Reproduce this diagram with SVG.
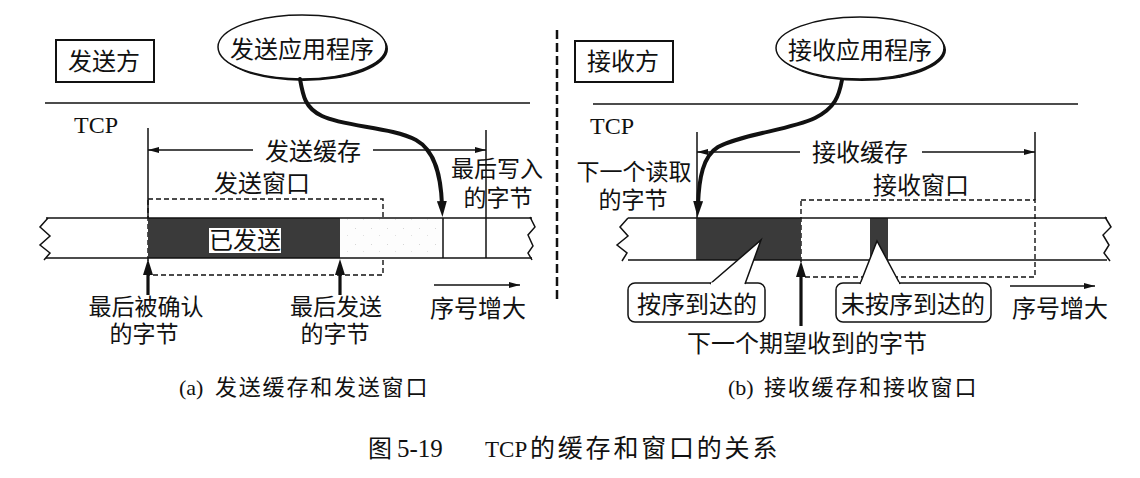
<svg xmlns="http://www.w3.org/2000/svg" width="1140" height="478" viewBox="0 0 1140 478">
<style>
.cjk{font-family:"Noto Sans CJK SC","Noto Sans CJK TC",sans-serif;font-size:24px;fill:#111;text-anchor:middle}
.sm{font-size:23px}
.lat{font-family:"Liberation Serif",serif;fill:#111}
.cap{font-family:"Noto Sans CJK SC",sans-serif;fill:#111}
.ln{stroke:#111;stroke-width:1.5;fill:none}
.dash{stroke:#111;stroke-width:1.4;fill:none;stroke-dasharray:5 3}
.thick{stroke:#111;stroke-width:3.2;fill:none}
.curve{stroke:#111;stroke-width:4;fill:none;stroke-linecap:round}
.box{fill:#fff;stroke:#111;stroke-width:2}
.dark{fill:#3a3a3a}
</style>
<defs>
<marker id="ah" viewBox="0 0 11 6" refX="11" refY="3" markerWidth="11" markerHeight="6" markerUnits="userSpaceOnUse" orient="auto"><path d="M0,0 L11,3 L0,6 z" fill="#111"/></marker>
<marker id="ahb" viewBox="0 0 16 10" refX="4" refY="5" markerWidth="16" markerHeight="10" markerUnits="userSpaceOnUse" orient="auto"><path d="M0,0 L16,5 L0,10 z" fill="#111"/></marker>
<pattern id="speck" width="16" height="16" patternUnits="userSpaceOnUse"><rect width="16" height="16" fill="#fdfdfd"/><rect x="3" y="4" width="1" height="1" fill="#d6d6d6"/><rect x="11" y="11" width="1" height="1" fill="#e0e0e0"/></pattern>
</defs>

<!-- ===== Left panel: sender ===== -->
<g id="sender-label">
<rect class="box" x="56" y="40" width="98" height="42"/>
<text class="cjk" x="104" y="70">发送方</text>
</g>
<g id="send-app">
<ellipse cx="304" cy="49" rx="84" ry="32" fill="#111"/>
<ellipse cx="302" cy="47" rx="84" ry="32" fill="#fff" stroke="#111" stroke-width="1.5"/>
<text class="cjk" x="302" y="58">发送应用程序</text>
</g>
<line class="ln" x1="45" y1="103" x2="530" y2="103"/>
<text class="lat" x="74" y="133" font-size="24">TCP</text>

<g id="send-buffer">
<line class="ln" x1="148" y1="128" x2="148" y2="218"/>
<line class="ln" x1="486" y1="130" x2="486" y2="258"/>
<text class="cjk" x="313" y="160">发送缓存</text>
</g>
<g id="send-window">
<rect class="dash" x="148" y="199" width="235" height="76"/>
<text class="cjk" x="262" y="192">发送窗口</text>
</g>
<g id="send-strip">
<rect class="dark" x="148" y="218" width="192" height="40"/>
<rect x="340" y="218" width="103" height="40" fill="url(#speck)"/>
<rect x="209" y="228" width="72" height="25" fill="#fff"/>
<text class="cjk" x="245" y="249">已发送</text>
<line class="ln" x1="46" y1="218" x2="532" y2="218"/>
<line class="ln" x1="46" y1="258" x2="532" y2="258"/>
<path class="ln" d="M48,218 L40,227 L50,236 L40,245 L50,253 L44,260"/>
<path class="ln" d="M530,217 L535,227 L528,235 L533,246 L528,253 L532,260"/>
<line class="ln" x1="443" y1="218" x2="443" y2="258"/>
</g>
<g id="send-labels">
<text class="cjk sm" x="497" y="177">最后写入<tspan x="498" dy="29">的字节</tspan></text>
<text class="cjk sm" x="146" y="315">最后被确认<tspan x="144" dy="27">的字节</tspan></text>
<text class="cjk sm" x="336" y="315">最后发送<tspan x="335" dy="27">的字节</tspan></text>
<text class="cjk" x="478" y="317">序号增大</text>
</g>

<!-- ===== Separator ===== -->
<line x1="557" y1="30" x2="557" y2="300" stroke="#111" stroke-width="2.5" stroke-dasharray="9 4"/>

<!-- ===== Right panel: receiver ===== -->
<g id="receiver-label">
<rect class="box" x="575" y="41" width="98" height="41"/>
<text class="cjk" x="623" y="70">接收方</text>
</g>
<g id="recv-app">
<ellipse cx="862" cy="50" rx="84" ry="31" fill="#111"/>
<ellipse cx="860" cy="48" rx="84" ry="31" fill="#fff" stroke="#111" stroke-width="1.5"/>
<text class="cjk" x="860" y="59">接收应用程序</text>
</g>
<line class="ln" x1="593" y1="104" x2="1078" y2="104"/>
<text class="lat" x="590" y="134" font-size="24">TCP</text>

<g id="recv-buffer">
<line class="ln" x1="697" y1="132" x2="697" y2="260"/>
<line class="ln" x1="1035" y1="132" x2="1035" y2="200"/>
<text class="cjk" x="860" y="161">接收缓存</text>
</g>
<g id="recv-window">
<rect class="dash" x="801" y="200" width="234" height="77"/>
<text class="cjk" x="921" y="194">接收窗口</text>
</g>
<g id="recv-strip">
<rect class="dark" x="697" y="218" width="104" height="42"/>
<rect class="dark" x="870" y="218" width="18" height="42"/>
<line class="ln" x1="628" y1="218" x2="1107" y2="218"/>
<line class="ln" x1="628" y1="260" x2="1107" y2="260"/>
<path class="ln" d="M628,218 L620,227 L628,236 L617,245 L627,253 L622,261"/>
<path class="ln" d="M1105,217 L1111,227 L1103,235 L1109,245 L1104,253 L1110,261"/>
</g>
<g id="recv-labels">
<text class="cjk sm" x="634" y="180">下一个读取<tspan x="633" dy="28">的字节</tspan></text>
<text class="cjk" x="807" y="352">下一个期望收到的字节</text>
<text class="cjk" x="1060" y="317">序号增大</text>
</g>
<g id="callout-inorder">
<rect x="628" y="283" width="137" height="39" rx="7" fill="#fff" stroke="#111" stroke-width="1.5"/>
<path d="M710,284 L761,240 L745,284" fill="#fff" stroke="#111" stroke-width="1.5"/>
<line x1="711" y1="283.5" x2="744" y2="283.5" stroke="#fff" stroke-width="2"/>
<text class="cjk" x="697" y="313">按序到达的</text>
</g>
<g id="callout-outorder">
<rect x="836" y="283" width="155" height="39" rx="7" fill="#fff" stroke="#111" stroke-width="1.5"/>
<path d="M860,284 L877,241 L900,284" fill="#fff" stroke="#111" stroke-width="1.5"/>
<line x1="861" y1="283.5" x2="899" y2="283.5" stroke="#fff" stroke-width="2"/>
<text class="cjk" x="913" y="313">未按序到达的</text>
</g>

<!-- ===== Connectors ===== -->
<g id="connectors">
<line class="ln" x1="253" y1="150" x2="148" y2="150" marker-end="url(#ah)"/>
<line class="ln" x1="373" y1="150" x2="486" y2="150" marker-end="url(#ah)"/>
<line class="ln" x1="434" y1="285" x2="520" y2="285" marker-end="url(#ah)"/>
<line class="thick" x1="148" y1="295" x2="148" y2="271" marker-end="url(#ahb)"/>
<line class="thick" x1="340" y1="295" x2="340" y2="271" marker-end="url(#ahb)"/>
<path class="curve" d="M300,79 C303,96 305,108 322,116 C345,127 392,127 416,140 C436,151 441,178 442,205" marker-end="url(#ahb)"/>

<line class="ln" x1="800" y1="152" x2="697" y2="152" marker-end="url(#ah)"/>
<line class="ln" x1="922" y1="152" x2="1035" y2="152" marker-end="url(#ah)"/>
<line class="ln" x1="1010" y1="286" x2="1095" y2="286" marker-end="url(#ah)"/>
<line class="thick" x1="801" y1="326" x2="801" y2="273" marker-end="url(#ahb)"/>
<path class="curve" d="M842,80 C839,96 835,108 815,118 C790,130 742,134 718,147 C703,156 699,178 698,205" marker-end="url(#ahb)"/>
</g>

<!-- ===== Captions ===== -->
<text class="cap" x="179" y="395" font-size="22" letter-spacing="1.8"><tspan font-family="Liberation Serif" letter-spacing="0">(a)</tspan><tspan x="215">发送缓存和发送窗口</tspan></text>
<text class="cap" x="728" y="395" font-size="22" letter-spacing="1.8"><tspan font-family="Liberation Serif" letter-spacing="0">(b)</tspan><tspan x="764">接收缓存和接收窗口</tspan></text>
<text class="cap" x="368" y="457" font-size="24">图<tspan x="397" font-family="Liberation Serif" font-size="25">5-19</tspan><tspan x="485" font-family="Liberation Serif" font-size="23">TCP</tspan><tspan x="530" font-size="25" letter-spacing="2.8">的缓存和窗口的关系</tspan></text>
</svg>
